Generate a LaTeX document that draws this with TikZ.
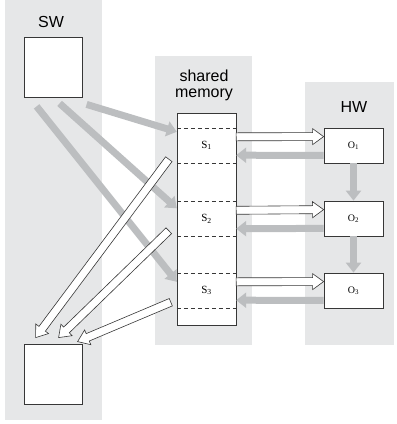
\documentclass[tikz,border=0pt]{standalone}
\usepackage{fontspec}
\setmainfont{Liberation Sans}
\newfontfamily\labelfont{Liberation Serif}
\usetikzlibrary{arrows.meta,calc}
\definecolor{panelgray}{RGB}{230,231,232}
\definecolor{flowgray}{RGB}{188,190,192}
\definecolor{linegray}{RGB}{55,55,55}
\tikzset{
  panel/.style={fill=panelgray},
  unitbox/.style={draw=linegray, line width=0.8pt, fill=white, inner sep=0pt,
    minimum width=58pt, minimum height=60pt},
  slotbox/.style={inner sep=0pt, minimum width=59pt, minimum height=35pt,
    font=\labelfont\fontsize{11}{12}\selectfont},
  outbox/.style={draw=linegray, line width=0.8pt, fill=white, inner sep=0pt,
    minimum width=59pt, minimum height=35pt, font=\labelfont\fontsize{10}{11}\selectfont},
  title/.style={font=\fontsize{16}{16}\selectfont, align=center},
  flow/.style={draw=flowgray, line width=7pt, -{Triangle[length=10pt,width=15pt]}},
  hollow/.style={draw=linegray, line width=0.6pt, fill=white, line join=miter},
  slotline/.style={draw=linegray, line width=0.6pt, dash pattern=on 4pt off 3pt}
}
% white arrow with black outline, from #1 to #2
\newcommand{\hollowarrow}[2]{%
  \coordinate (ha) at #1;
  \coordinate (hb) at #2;
  \coordinate (hc) at ($(hb)!11pt!(ha)$);
  \draw[hollow] ($(ha)!4pt!90:(hb)$) -- ($(hc)!4pt!-90:(ha)$) -- ($(hc)!8pt!-90:(ha)$) -- (hb)
    -- ($(hc)!8pt!90:(ha)$) -- ($(hc)!4pt!90:(ha)$) -- ($(ha)!4pt!-90:(hb)$) -- cycle;}
\begin{document}
\begin{tikzpicture}[x=1pt,y=-1pt]
\useasboundingbox (0,0) rectangle (397,424);
% panels
\fill[panel] (5,0) rectangle (102,420);
\fill[panel] (155,56) rectangle (252,345);
\fill[panel] (305,82) rectangle (394,345);
\node[title] (swlabel) at (51,22) {SW};
\node[title] (memlabel) at (204,85) {shared\\memory};
\node[title] (hwlabel) at (354,107) {HW};
% boxes
\node[unitbox] (swtop) at (53,67) {};
\node[unitbox] (swbot) at (53,374) {};
\node[draw=linegray, line width=0.8pt, fill=white, inner sep=0pt,
  minimum width=59pt, minimum height=212pt] (mem) at (206.5,219) {};
\node[slotbox] (s1) at (206.5,145.5) {S\textsubscript{1}};
\node[slotbox] (s2) at (206.5,219) {S\textsubscript{2}};
\node[slotbox] (s3) at (206.5,290.5) {S\textsubscript{3}};
\foreach \s in {s1,s2,s3} {
  \draw[slotline] (\s.north west) -- (\s.north east);
  \draw[slotline] (\s.south west) -- (\s.south east);
}
\node[outbox] (o1) at (353.5,145.5) {O\textsubscript{1}};
\node[outbox] (o2) at (353.5,218.5) {O\textsubscript{2}};
\node[outbox] (o3) at (353.5,290.5) {O\textsubscript{3}};
% gray flows
\draw[flow] ([shift={(63,7)}]swtop.south west) -- ([shift={(0,4)}]s1.north west);
\draw[flow] ([shift={(36,6)}]swtop.south west) -- ([shift={(0,7)}]s2.north west);
\draw[flow] ([shift={(13,9)}]swtop.south west) -- ([shift={(0,9)}]s3.north west);
\foreach \k in {1,2,3}
  \draw[flow] ([shift={(0,-8)}]o\k.south west) -- ([shift={(0,-8)}]s\k.south east);
\draw[flow] (o1.south) -- (o2.north);
\draw[flow] (o2.south) -- (o3.north);
% white flows
\foreach \k in {1,2,3} {
  \hollowarrow{([shift={(0,9)}]s\k.north east)}{([shift={(0,9)}]o\k.north west)}
}
\hollowarrow{([shift={(-8,-4)}]s1.south west)}{([shift={(12,-6)}]swbot.north west)}
\hollowarrow{([shift={(-8,-6)}]s2.south west)}{([shift={(35,-6)}]swbot.north west)}
\hollowarrow{([shift={(-6,-6)}]s3.south west)}{([shift={(54,-2)}]swbot.north west)}
\end{tikzpicture}
\end{document}
